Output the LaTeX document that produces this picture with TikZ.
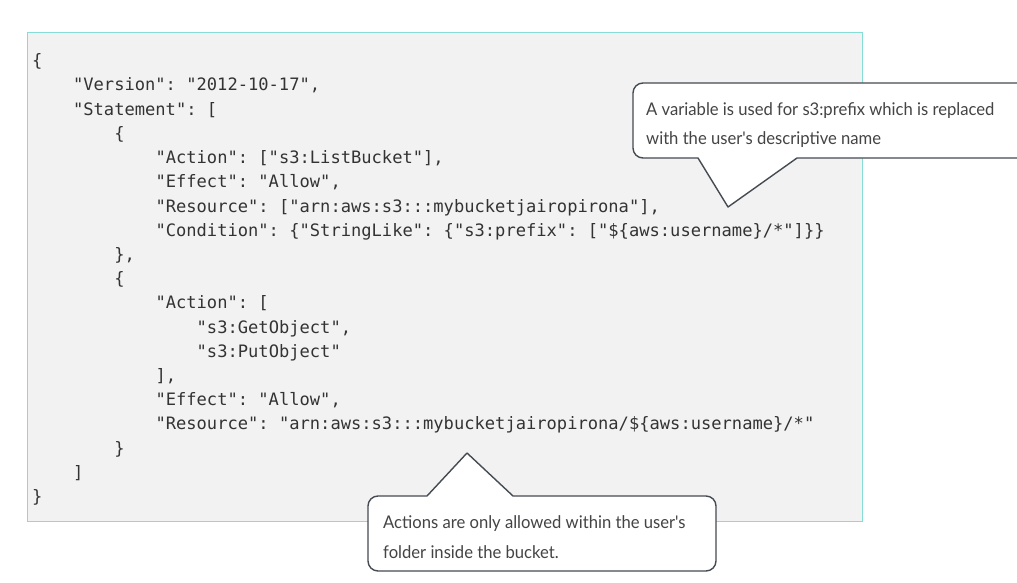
\documentclass[tikz,border=0pt]{standalone}
\usepackage{fontspec}
\newfontfamily\codefont{DejaVu Sans Mono}
\newfontfamily\notefont[FakeStretch=0.95]{Lato}
\definecolor{codebg}{HTML}{F2F2F2}
\definecolor{codeborder}{HTML}{86DDD5}
\definecolor{codetext}{HTML}{333333}
\definecolor{calloutline}{HTML}{454B52}
\definecolor{callouttext}{HTML}{444444}
\tikzset{
  codeline/.style={anchor=base west, inner sep=0pt, font=\codefont\fontsize{17.1}{20}\selectfont\frenchspacing, text=codetext},
  noteline/.style={anchor=base west, inner sep=0pt, font=\notefont\fontsize{17.5}{20}\selectfont\frenchspacing, text=callouttext},
  callout/.style={draw=calloutline, fill=white, line width=1.4pt, line join=round},
}
\begin{document}
\begin{tikzpicture}[x=1pt,y=-1pt]
\useasboundingbox[fill=white] (0,0) rectangle (1017,583);
\begin{scope}
\clip (0,0) rectangle (1017,583);
% code panel
\node[draw=codeborder, fill=codebg, line width=1.3pt, inner sep=0pt, minimum width=835pt, minimum height=489pt, anchor=north west] (panel) at (27,32) {};
\node[codeline] (l0)  at (32,66.8)     {\{};
\node[codeline] (l1)  at (72.9,91)     {"Version": "2012-10-17",};
\node[codeline] (l2)  at (72.9,115.2)  {"Statement": [};
\node[codeline] (l3)  at (114.1,139.4) {\{};
\node[codeline] (l4)  at (155.3,163.6) {"Action": ["s3:ListBucket"],};
\node[codeline] (l5)  at (155.3,187.8) {"Effect": "Allow",};
\node[codeline] (l6)  at (155.3,212)   {"Resource": ["arn:aws:s3:::mybucketjairopirona"],};
\node[codeline] (l7)  at (155.3,236.2) {"Condition": \{"StringLike": \{"s3:prefix": ["\$\{aws:username\}/*"]\}\}};
\node[codeline] (l8)  at (114.1,260.4) {\},};
\node[codeline] (l9)  at (114.1,284.6) {\{};
\node[codeline] (l10) at (155.3,308.8) {"Action": [};
\node[codeline] (l11) at (196.5,333)   {"s3:GetObject",};
\node[codeline] (l12) at (196.5,357.2) {"s3:PutObject"};
\node[codeline] (l13) at (155.3,381.4) {],};
\node[codeline] (l14) at (155.3,405.6) {"Effect": "Allow",};
\node[codeline] (l15) at (155.3,429.8) {"Resource": "arn:aws:s3:::mybucketjairopirona/\$\{aws:username\}/*"};
\node[codeline] (l16) at (114.1,454)   {\}};
\node[codeline] (l17) at (72.9,478.2)  {]};
\node[codeline] (l18) at (32,502.4)    {\}};
% top callout
\draw[callout] (728,207) -- (698,158) {[rounded corners=10pt] -- (633,158) -- (633,83) -- (1045,83) -- (1045,158)} -- (797,158) -- cycle;
\node[noteline] (n1) at (646,116) {A variable is used for s3:prefix which is replaced};
\node[noteline] (n2) at (646,145) {with the user's descriptive name};
% bottom callout
\draw[callout] (467,453) -- (513,496) {[rounded corners=10pt] -- (716,496) -- (716,571) -- (368,571) -- (368,496)} -- (427,496) -- cycle;
\node[noteline] (n3) at (383,528) {Actions are only allowed within the user's};
\node[noteline] (n4) at (383,558) {folder inside the bucket.};
\end{scope}
\end{tikzpicture}
\end{document}
